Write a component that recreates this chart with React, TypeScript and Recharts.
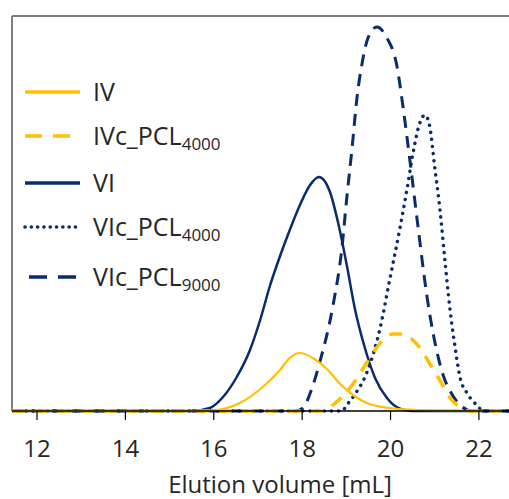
import { LineChart, Line, XAxis, YAxis, ReferenceLine, Legend, Label } from "recharts";

// elution volume [mL] / detector signal (relative)
const IV_VOL = [11.43, 15.7, 16.07, 16.59, 17.11, 17.5, 17.72, 17.95, 18.24, 18.56, 18.86, 19.15, 19.46, 19.97, 20.6, 21.3, 22.1];
const IV_SIG = [0, 0, 1, 8, 24, 41, 53, 58, 53, 42, 27, 16, 8, 3, 1, 0, 0];

const IVC4000_VOL = [11.43, 18.55, 18.7, 18.92, 19.15, 19.4, 19.6, 19.83, 20.05, 20.25, 20.45, 20.65, 20.89, 21.1, 21.35, 21.57, 21.8, 22.93];
const IVC4000_SIG = [0, 0, 6, 15, 27, 44, 58, 71, 77, 77, 73, 64, 47, 32, 13, 4, 0, 0];

const VI_VOL = [11.43, 15.5, 15.91, 16.21, 16.52, 16.82, 17.05, 17.27, 17.5, 17.72, 17.95, 18.18, 18.38, 18.63, 18.81, 19.01, 19.19, 19.42, 19.65, 19.92, 20.14, 20.5, 22.93];
const VI_SIG = [0, 0, 3, 14, 34, 61, 91, 125, 155, 181, 206, 226, 234, 219, 189, 146, 103, 63, 33, 13, 4, 0, 0];

const VIC4000_VOL = [11.43, 18.9, 19.01, 19.2, 19.46, 19.76, 19.99, 20.21, 20.37, 20.51, 20.67, 20.78, 20.89, 21.0, 21.12, 21.23, 21.34, 21.46, 21.57, 21.73, 21.95, 22.1, 22.93];
const VIC4000_SIG = [0, 0, 6, 17, 38, 82, 133, 182, 221, 258, 289, 296, 284, 244, 201, 151, 104, 64, 34, 18, 6, 0, 0];

const VIC9000_VOL = [11.43, 17.85, 18.02, 18.2, 18.4, 18.7, 18.9, 19.01, 19.13, 19.24, 19.35, 19.49, 19.69, 19.92, 20.14, 20.28, 20.44, 20.62, 20.82, 20.98, 21.19, 21.4, 21.6, 21.85, 22.93];
const VIC9000_SIG = [0, 0, 3, 20, 49, 106, 163, 213, 263, 313, 346, 373, 384, 373, 346, 305, 250, 185, 116, 74, 36, 16, 5, 0, 0];

const X_TICKS = [12, 14, 16, 18, 20, 22];

const NAVY = "#0a2b6e";
const GOLD = "#ffc000";
const TEXT = "#262626";
const FONT = "'Open Sans', sans-serif";

const toRows = (vol: number[], sig: number[]) => vol.map((x, i) => ({ x, y: sig[i] }));

const series = [
  { key: "VI", name: "VI", sub: "", data: toRows(VI_VOL, VI_SIG), color: NAVY, width: 2.5, dash: undefined, cap: "butt" },
  { key: "VIc9000", name: "VIc_PCL", sub: "9000", data: toRows(VIC9000_VOL, VIC9000_SIG), color: NAVY, width: 3, dash: "12 8", cap: "butt" },
  { key: "VIc4000", name: "VIc_PCL", sub: "4000", data: toRows(VIC4000_VOL, VIC4000_SIG), color: NAVY, width: 3.5, dash: "0.1 7", cap: "round" },
  { key: "IVc4000", name: "IVc_PCL", sub: "4000", data: toRows(IVC4000_VOL, IVC4000_SIG), color: GOLD, width: 3.5, dash: "13 10", cap: "butt" },
  { key: "IV", name: "IV", sub: "", data: toRows(IV_VOL, IV_SIG), color: GOLD, width: 2.2, dash: undefined, cap: "butt" },
];

const legendOrder = ["IV", "IVc4000", "VI", "VIc4000", "VIc9000"];
const legendY = [92, 136, 183, 227, 277];

function LegendBox() {
  return (
    <svg width={260} height={300} style={{ display: "block" }}>
      {legendOrder.map((k, i) => {
        const s = series.find((d) => d.key === k)!;
        const y = legendY[i];
        let x1 = 25;
        let x2 = 80;
        let dash = s.dash;
        if (k === "IVc4000") {
          x2 = 73;
          dash = "17 11";
        }
        if (k === "VIc9000") {
          x1 = 29;
          x2 = 77;
          dash = "18 11";
        }
        if (k === "VIc4000") dash = "0.1 6.2";
        return (
          <g key={k}>
            <line
              x1={x1}
              x2={x2}
              y1={y}
              y2={y}
              stroke={s.color}
              strokeWidth={k === "VIc4000" ? 3.6 : 3.4}
              strokeDasharray={dash}
              strokeLinecap={s.cap as any}
            />
            <text x={93} y={y + 9} fontSize={25} fill={TEXT} fontFamily={FONT}>
              {s.name}
              {s.sub && (
                <tspan fontSize={17} dy={5}>
                  {s.sub}
                </tspan>
              )}
            </text>
          </g>
        );
      })}
    </svg>
  );
}

export default function App() {
  return (
    <div
      style={{
        position: "absolute",
        left: 0,
        top: 0,
        width: 509,
        height: 499,
        overflow: "hidden",
        background: "#fff",
      }}
    >
      <LineChart width={520} height={499} margin={{ top: 16, right: 0, bottom: 0, left: 12 }}>
        <XAxis
          type="number"
          dataKey="x"
          domain={[11.434, 22.93]}
          ticks={X_TICKS}
          allowDataOverflow
          height={88}
          tickSize={9}
          tickMargin={20}
          axisLine={{ stroke: "#000", strokeWidth: 1.5 }}
          tickLine={{ stroke: "#000", strokeWidth: 1.2 }}
          tick={{ fontSize: 24, fill: TEXT, fontFamily: FONT }}
        >
          <Label
            content={({ viewBox }: any) => (
              <text
                x={viewBox.x + viewBox.width / 2 + 14}
                y={viewBox.y + viewBox.height - 6}
                textAnchor="middle"
                fontSize={24}
                fill={TEXT}
                fontFamily={FONT}
              >
                Elution volume [mL]
              </text>
            )}
          />
        </XAxis>
        <YAxis type="number" domain={[0, 395]} hide />
        <ReferenceLine x={11.434} stroke="#7f7f7f" strokeWidth={2} />
        <ReferenceLine y={395} stroke="#7f7f7f" strokeWidth={2} />
        <Legend
          layout="vertical"
          align="center"
          verticalAlign="middle"
          wrapperStyle={{ left: 0, top: 0, width: 260, height: 300 }}
          content={() => <LegendBox />}
        />
        {series.map((s) => (
          <Line
            key={s.key}
            data={s.data}
            dataKey="y"
            name={s.key}
            type="monotone"
            stroke={s.color}
            strokeWidth={s.width}
            strokeDasharray={s.dash}
            strokeLinecap={s.cap as any}
            dot={false}
            activeDot={false}
            isAnimationActive={false}
          />
        ))}
      </LineChart>
    </div>
  );
}
